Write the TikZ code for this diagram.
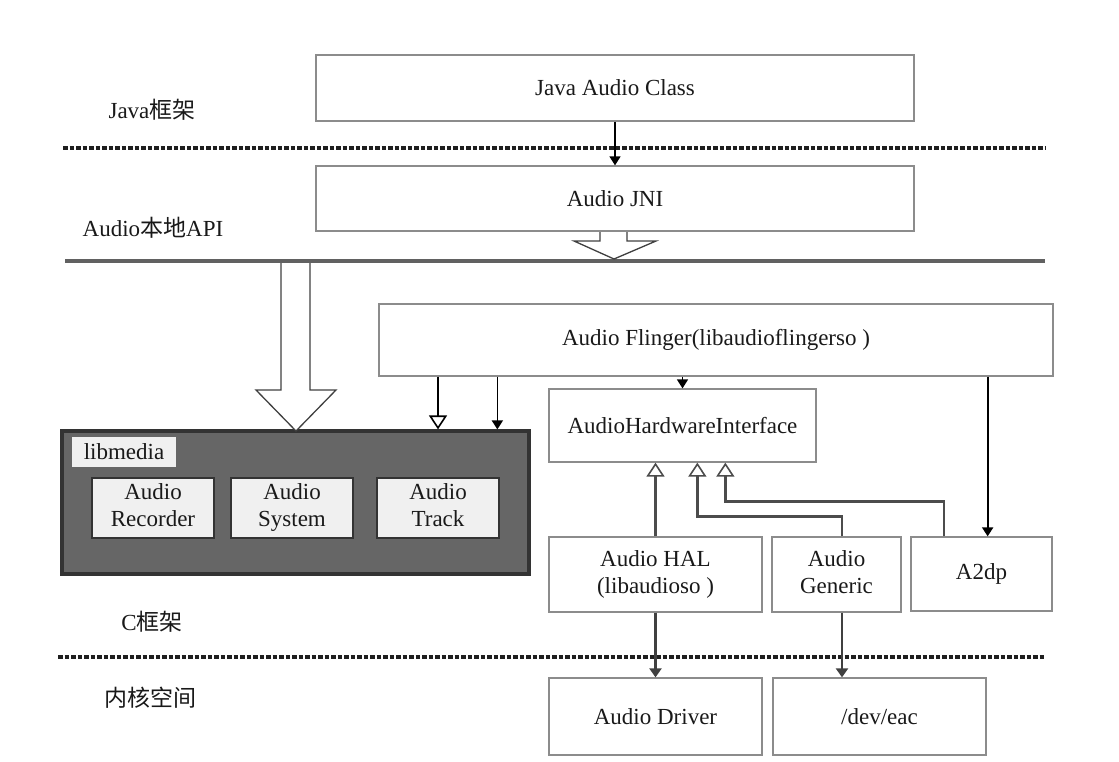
\documentclass[tikz,border=0pt]{standalone}
\usepackage{fontspec}
\setmainfont{Liberation Serif}
\newfontfamily\cjk{Noto Sans CJK SC}
\usetikzlibrary{arrows.meta,calc}
\begin{document}
\begin{tikzpicture}[x=1pt,y=-1pt,
  every node/.style={font=\fontsize{23}{27}\selectfont, text=black!90},
  box/.style={draw=black!45, line width=1.3pt, fill=white, inner sep=0pt, align=center},
  inbox/.style={draw=black!80, line width=1.3pt, fill=black!6, inner sep=0pt, align=center},
  layerdash/.style={line width=3.4pt, black!88, dash pattern=on 4.5pt off 2pt},
  layersolid/.style={line width=4.2pt, black!62},
  fa/.style={line width=1.6pt, black, -{Triangle[length=9pt,width=11pt]}},
  fb/.style={line width=2.6pt, black!75, -{Triangle[length=9pt,width=12pt]}},
  ha/.style={line width=1.6pt, black, -{Triangle[fill=white,length=14pt,width=18pt]}},
  hb/.style={line width=2.6pt, black!70, -{Triangle[fill=white,length=14pt,width=18pt,line width=1.6pt]}},
  blockarrow/.style={draw=black!75, line width=1.3pt, fill=white, line join=miter}
]
\useasboundingbox (0,0) rectangle (1119,761);

% layer separators
\coordinate (d1l) at (63,148);  \coordinate (d1r) at (1045,148);
\coordinate (s2l) at (65,261);  \coordinate (s2r) at (1045,261);
\coordinate (d3l) at (58,657);  \coordinate (d3r) at (1045,657);
\draw[layerdash] (d1l) -- (d1r);
\draw[layersolid] (s2l) -- (s2r);
\draw[layerdash] (d3l) -- (d3r);

% layer labels
\node (ljava) at (152,110) {Java{\cjk 框架}};
\node (lapi)  at (153,228) {Audio{\cjk 本地}API};
\node (lc)    at (152,622) {C{\cjk 框架}};
\node (lk)    at (150,698) {{\cjk 内核空间}};

% boxes
\node[box, minimum width=598pt, minimum height=66pt] (java) at (615,88) {Java Audio Class};
\node[box, minimum width=598pt, minimum height=65pt] (jni) at (615,198.5) {Audio JNI};
\node[box, minimum width=674pt, minimum height=72pt] (af) at (716,340) {Audio Flinger(libaudioflingerso )};
\node[box, minimum width=267pt, minimum height=73pt] (ahi) at (682.5,425.5) {AudioHardwareInterface};
\node[box, minimum width=213pt, minimum height=75pt] (hal) at (655.5,574.5) {Audio HAL\strut\\(libaudioso )\strut};
\node[box, minimum width=129pt, minimum height=75pt] (gen) at (836.5,574.5) {Audio\strut\\Generic\strut};
\node[box, minimum width=141pt, minimum height=74pt] (a2dp) at (981.5,574) {A2dp};
\node[box, minimum width=213pt, minimum height=77pt] (drv) at (655.5,716.5) {Audio Driver};
\node[box, minimum width=213pt, minimum height=77pt] (eac) at (879.5,716.5) {/dev/eac};

% libmedia
\node[draw=black!80, line width=3.2pt, fill=black!60, minimum width=467pt, minimum height=143pt, inner sep=0pt] (lib) at (295.5,502.5) {};
\node[fill=black!6, inner sep=0pt, minimum width=104pt, minimum height=30pt] (libl) at (124,452) {libmedia};
\node[inbox, minimum width=122pt, minimum height=60pt] (rec) at (153,508) {Audio\strut\\Recorder\strut};
\node[inbox, minimum width=122pt, minimum height=60pt] (sys) at (292,508) {Audio\strut\\System\strut};
\node[inbox, minimum width=122pt, minimum height=60pt] (trk) at (438,508) {Audio\strut\\Track\strut};

% block arrows
\draw[blockarrow] (600,232) -- (600,241) -- (574,241) -- (614,259) -- (656,241) -- (627,241) -- (627,232);
\draw[blockarrow] (281,263) -- (281,390) -- (256,390) -- (296,431) -- (336,390) -- (310,390) -- (310,263);

% connectors
\draw[fa] (java.south) -- (jni.north);
\draw[ha] (trk.north |- af.south) -- (trk.north |- lib.north);
\draw[fa] ([xshift=119pt]af.south west) -- ([xshift=119pt]af.south west |- lib.north);
\draw[fa] (ahi.north |- af.south) -- (ahi.north);
\draw[fa, line width=2pt] ([xshift=-66pt]af.south east) -- ([xshift=-66pt]af.south east |- a2dp.north);

\draw[hb] (hal.north) -- (hal.north |- ahi.south);
\draw[hb] ([xshift=5.5pt]gen.north) -- ++(0,-20) -| ([xshift=149pt]ahi.south west);
\draw[hb] ([xshift=-37.5pt]a2dp.north) -- ++(0,-35) -| ([xshift=177pt]ahi.south west);

\draw[fb] (hal.south) -- (drv.north);
\draw[fb] ([xshift=5.5pt]gen.south) -- ([xshift=5.5pt]gen.south |- eac.north);
\end{tikzpicture}
\end{document}
